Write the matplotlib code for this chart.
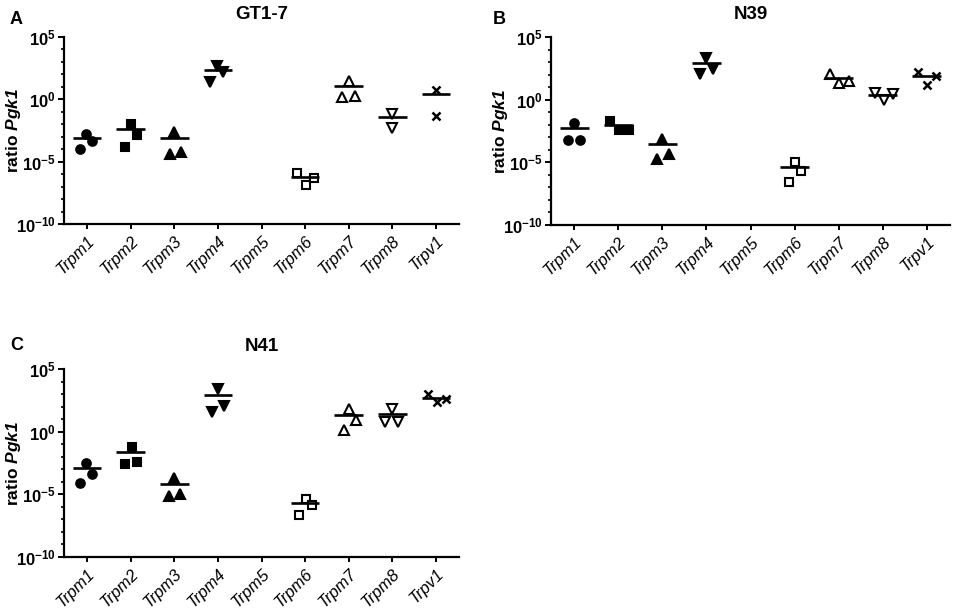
import numpy as np
import matplotlib
matplotlib.use("Agg")
import matplotlib.pyplot as plt
import matplotlib.transforms as mtransforms
from matplotlib.ticker import FixedLocator, FuncFormatter

plt.rcParams['font.family'] = ['Liberation Sans', 'DejaVu Sans']
plt.rcParams['mathtext.fontset'] = 'custom'
plt.rcParams['mathtext.rm'] = 'Liberation Sans'
plt.rcParams['mathtext.it'] = 'Liberation Sans:italic'
plt.rcParams['mathtext.bf'] = 'Liberation Sans:bold'
plt.rcParams['mathtext.bfit'] = 'Liberation Sans:italic:bold'

genes = ['Trpm1', 'Trpm2', 'Trpm3', 'Trpm4', 'Trpm5', 'Trpm6', 'Trpm7', 'Trpm8', 'Trpv1']

# ratio to Pgk1, per gene (Trpm5 not detected)
gt17 = [
    [1.1e-4, 1.8e-3, 4.4e-4],
    [1.0e-2, 1.3e-3, 1.4e-4],
    [2.5e-3, 3.9e-5, 6.0e-5],
    [490, 170, 26],
    [],
    [1.2e-6, 1.4e-7, 4.8e-7],
    [32, 1.45, 1.7],
    [0.066, 4.6e-3],
    [5.6, 0.046],
]
n39 = [
    [1.4e-2, 5.8e-4, 6.5e-4],
    [2.0e-2, 3.5e-3, 4.1e-3],
    [7.8e-4, 1.9e-5, 4.4e-5],
    [2200, 120, 300],
    [],
    [1.1e-5, 2.7e-7, 2.0e-6],
    [120, 21, 31],
    [3.4, 0.89, 3.0],
    [160, 14, 72],
]
n41 = [
    [3.0e-3, 4.2e-4, 7.6e-5],
    [6.3e-2, 2.5e-3, 3.5e-3],
    [1.9e-4, 7.4e-6, 1.1e-5],
    [2400, 40, 110],
    [],
    [4.3e-6, 2.2e-7, 1.4e-6],
    [60, 1.35, 8.5],
    [60, 6.3, 6.3],
    [950, 220, 380],
]

# horizontal spread of the points inside each column
spread_a = [[-0.17, -0.03, 0.12], [0.0, 0.14, -0.14], [0.0, -0.11, 0.15], [-0.02, 0.11, -0.18], [],
            [-0.19, 0.02, 0.21], [0.0, -0.15, 0.15], [0.0, 0.0], [0.0, 0.0]]
spread_b = [[0.0, -0.15, 0.13], [-0.19, 0.02, 0.23], [0.0, -0.12, 0.15], [0.0, -0.15, 0.15], [],
            [0.0, -0.13, 0.15], [-0.19, 0.02, 0.23], [-0.18, 0.02, 0.23], [-0.19, 0.0, 0.21]]
spread_c = [[-0.03, 0.12, -0.17], [0.02, -0.14, 0.14], [0.0, -0.13, 0.14], [0.0, -0.14, 0.14], [],
            [0.02, -0.14, 0.15], [0.0, -0.11, 0.17], [0.0, -0.17, 0.14], [-0.19, 0.02, 0.23]]

# marker, filled?
styles = [('o', True), ('s', True), ('^', True), ('v', True), ('o', True),
          ('s', False), ('^', False), ('v', False), ('x', True)]
sizes = {'o': 6.2, 's': 5.8, '^': 7.0, 'v': 7.0, 'x': 6.2}

W, H = 954, 609
fig = plt.figure(figsize=(W / 100, H / 100), dpi=100)


def px_axes(l, r, t, b):
    return fig.add_axes([l / W, 1 - b / H, (r - l) / W, (b - t) / H])


def fmt(v, pos):
    return r'$\mathbf{10^{%d}}$' % int(round(np.log10(v)))


def panel(ax, data, spread, title):
    for i, vals in enumerate(data):
        if not vals:
            continue
        m, filled = styles[i]
        xs = i + np.array(spread[i])
        if m == 'x':
            ax.plot(xs, vals, linestyle='none', marker='x', ms=sizes[m], mew=1.8, color='black')
        else:
            ax.plot(xs, vals, linestyle='none', marker=m, ms=sizes[m], mew=1.5,
                    mec='black', mfc='black' if filled else 'white')
        mean = np.mean(vals)
        ax.plot([i - 0.33, i + 0.33], [mean, mean], color='black', lw=1.9, solid_capstyle='butt')
    ax.set_yscale('log')
    ax.set_ylim(1e-10, 1e5)
    ax.set_xlim(-0.53, 8.53)
    ax.yaxis.set_major_locator(FixedLocator([1e-10, 1e-5, 1e0, 1e5]))
    ax.yaxis.set_minor_locator(FixedLocator([10.0 ** k for k in range(-10, 6) if k % 5]))
    ax.yaxis.set_major_formatter(FuncFormatter(fmt))
    ax.yaxis.set_minor_formatter(FuncFormatter(lambda v, p: ''))
    ax.set_xticks(range(len(genes)))
    ax.set_xticklabels(genes, rotation=45, ha='right', rotation_mode='anchor',
                       fontsize=12, fontstyle='italic')
    shift = mtransforms.ScaledTranslation(-3 / 100, 0, fig.dpi_scale_trans)
    for lab in ax.get_xticklabels():
        lab.set_transform(lab.get_transform() + shift)
    ax.tick_params(axis='y', which='major', length=4, width=1.4, labelsize=12, pad=2)
    ax.tick_params(axis='y', which='minor', length=2.5, width=1.2)
    ax.tick_params(axis='x', length=3.5, width=1.4, pad=3)
    for s in ('top', 'right'):
        ax.spines[s].set_visible(False)
    for s in ('left', 'bottom'):
        ax.spines[s].set_linewidth(1.6)
    ax.set_ylabel(r'$\mathbf{ratio}$ $\mathbfit{Pgk1}$', fontsize=12.5)
    ax.yaxis.set_label_coords(-0.105, 0.5)
    ax.set_title(title, fontsize=13.5, fontweight='bold', pad=13)


ax_a = px_axes(64, 459, 37, 224)
ax_b = px_axes(551, 950, 37, 225)
ax_c = px_axes(64, 459, 369, 557)
panel(ax_a, gt17, spread_a, 'GT1-7')
panel(ax_b, n39, spread_b, 'N39')
panel(ax_c, n41, spread_c, 'N41')
ax_b.yaxis.set_label_coords(-0.104, 0.5)

fig.text(10 / W, 1 - 20 / H, 'A', fontsize=13, fontweight='bold', va='center', ha='left')
fig.text(493 / W, 1 - 20 / H, 'B', fontsize=13, fontweight='bold', va='center', ha='left')
fig.text(10 / W, 1 - 346 / H, 'C', fontsize=13, fontweight='bold', va='center', ha='left')

fig.savefig('out.png', dpi=100)
